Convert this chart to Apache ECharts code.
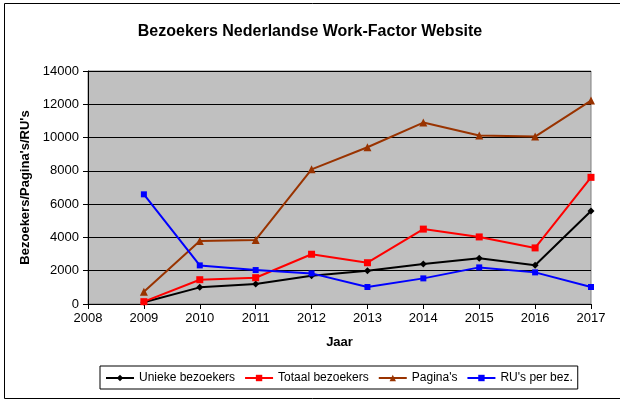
<!DOCTYPE html>
<html><head><meta charset="utf-8">
<script src="https://cdn.jsdelivr.net/npm/echarts@6/dist/echarts.min.js"></script>
<style>html,body{margin:0;padding:0;background:#fff}#c{width:620px;height:400px}</style>
</head><body><div id="c"></div>
<script>
const years = [2009, 2010, 2011, 2012, 2013, 2014, 2015, 2016, 2017];
const unieke = [100, 1000, 1200, 1700, 2000, 2400, 2750, 2330, 5590];
const totaal = [140, 1460, 1580, 2990, 2480, 4500, 4030, 3370, 7610];
const paginas = [740, 3790, 3850, 8090, 9420, 10900, 10120, 10060, 12220];
const ruPerBez = [6590, 2320, 2040, 1840, 1020, 1540, 2200, 1900, 1020];
const yTicks = [0, 2000, 4000, 6000, 8000, 10000, 12000, 14000];
const xTicks = [2008, 2009, 2010, 2011, 2012, 2013, 2014, 2015, 2016, 2017];

const font = '"Liberation Sans", Arial, sans-serif';
const pairs = arr => years.map((y, i) => [y, arr[i]]);
const mk = (name, arr, color, symbol, size) => ({
  name, type: 'line', data: pairs(arr), color,
  symbol, symbolSize: size, lineStyle: { width: 2, color },
  itemStyle: { color }, emphasis: { disabled: true }, animation: false
});

const chart = echarts.init(document.getElementById('c'));
chart.setOption({
  animation: false,
  backgroundColor: '#fff',
  textStyle: { fontFamily: font },
  title: {
    text: 'Bezoekers Nederlandse Work-Factor Website',
    left: 'center', top: 19,
    textStyle: { fontSize: 16, fontWeight: 'bold', color: '#000', fontFamily: font }
  },
  grid: { left: 88, right: 29, top: 71, bottom: 96, show: true, backgroundColor: '#c0c0c0', borderColor: '#808080', borderWidth: 1 },
  xAxis: {
    type: 'value', min: xTicks[0], max: xTicks[xTicks.length - 1], interval: 1,
    name: 'Jaar', nameLocation: 'middle', nameGap: 32,
    nameTextStyle: { fontSize: 13, fontWeight: 'bold', color: '#000', fontFamily: font },
    axisLine: { show: true, lineStyle: { color: '#000', width: 1 } },
    axisTick: { show: true, length: 5, lineStyle: { color: '#000' } },
    axisLabel: { color: '#000', fontSize: 13, margin: 8, formatter: v => String(v) },
    splitLine: { show: false }
  },
  yAxis: {
    type: 'value', min: yTicks[0], max: yTicks[yTicks.length - 1], interval: 2000,
    name: "Bezoekers/Pagina's/RU's", nameLocation: 'middle', nameGap: 43,
    nameTextStyle: { fontSize: 13, fontWeight: 'bold', color: '#000', fontFamily: font },
    axisLine: { show: true, lineStyle: { color: '#000', width: 1 } },
    axisTick: { show: true, length: 5, lineStyle: { color: '#000' } },
    axisLabel: { color: '#000', fontSize: 13, margin: 9, formatter: v => String(v) },
    splitLine: { show: true, lineStyle: { color: '#000', width: 1 } }
  },
  legend: {
    left: 100, top: 366, width: 520,
    padding: [6, 5, 5, 5], itemGap: 9,
    borderColor: '#000', borderWidth: 1,
    itemWidth: 28, itemHeight: 8,
    textStyle: { fontSize: 12, color: '#000', fontFamily: font },
    data: ['Unieke bezoekers', 'Totaal bezoekers', "Pagina's", "RU's per bez."]
  },
  graphic: [{
    type: 'rect', left: 2, top: 1, shape: { width: 660, height: 395 },
    style: { fill: 'none', stroke: '#000', lineWidth: 1 }, silent: true, z: -1
  }],
  series: [
    mk('Unieke bezoekers', unieke, '#000000', 'diamond', 7),
    mk('Totaal bezoekers', totaal, '#ff0000', 'rect', 7),
    mk("Pagina's", paginas, '#993300', 'triangle', 8),
    mk("RU's per bez.", ruPerBez, '#0000ff', 'rect', 6)
  ]
});
</script></body></html>
